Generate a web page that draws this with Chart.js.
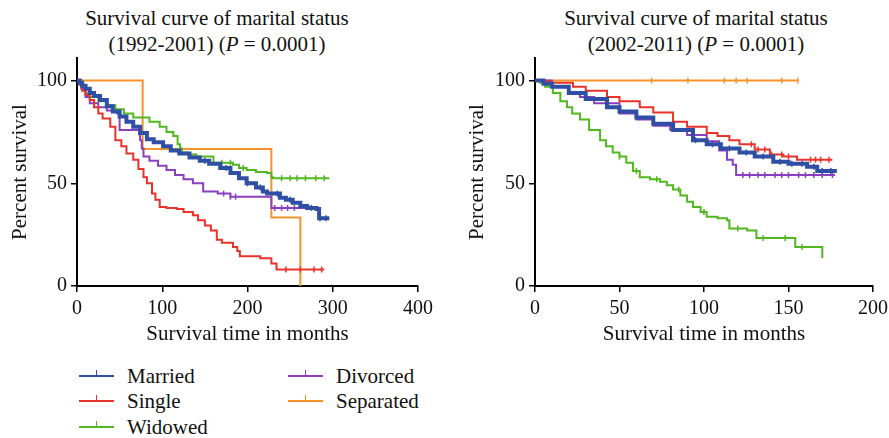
<!DOCTYPE html>
<html>
<head>
<meta charset="utf-8">
<script src="https://cdn.jsdelivr.net/npm/chart.js@4.4.1/dist/chart.umd.min.js"></script>
<style>
  body { margin: 0; background: #fff; }
  #wrap { position: relative; width: 889px; height: 438px; overflow: hidden; background: #fff; font-family: "Liberation Serif", "DejaVu Serif", serif; color: #111; }
  .ttl { position: absolute; top: 5px; font-size: 21px; line-height: 26px; text-align: center; }
  .box { position: absolute; top: 42px; height: 308px; }
  .leg { position: absolute; font-size: 21px; line-height: 24px; }
  .leg .ln { position: absolute; left: 0; top: 11px; width: 35px; height: 0; border-top: 2.5px solid; }
  .leg .tk { position: absolute; left: 17px; top: -7px; width: 0; height: 7px; border-left: 1.5px solid; }
  .leg .tx { position: absolute; left: 48px; top: 0; white-space: nowrap; }
</style>
</head>
<body>
<div id="wrap">
  <div class="ttl" style="left:0;width:434px">Survival curve of marital status<br>(1992-2001) (<i>P</i> = 0.0001)</div>
  <div class="ttl" style="left:496px;width:400px">Survival curve of marital status<br>(2002-2011) (<i>P</i> = 0.0001)</div>
  <div class="box" style="left:0;width:440px"><canvas id="kmEarly"></canvas></div>
  <div class="box" style="left:445px;width:448px"><canvas id="kmLate"></canvas></div>
  <div id="legend"></div>
</div>
<script>
// marital groups
const groupNames = ['Married', 'Single', 'Widowed', 'Divorced', 'Separated'];
const groupColors = ['#2f4fa5', '#e8322a', '#52b820', '#8a3fc0', '#f7922a'];

// 1992-2001 : [months, percent survival]
const earlyMarried = [[0,100],[3,99],[6,97.5],[10,96],[15,94],[20,92.5],[27,90.5],[35,87.5],[42,85],[50,82.5],[58,80],[66,77.5],[74,74.5],[82,71.5],[90,70],[101,68],[110,66],[120,64.5],[132,62.5],[144,61],[155,59.5],[168,57.5],[180,55],[190,52.5],[199,50],[210,48],[218,46],[223,45],[238,43],[245,42],[253,40.5],[262,39],[270,38],[281,37.5],[284,33],[296,33]];
const earlySingle = [[0,100],[3,98],[6,95],[10,93],[15,90.5],[20,87],[25,84],[30,81.5],[39,77.5],[45,71],[52,68],[58,64.5],[66,61.5],[72,57],[78,53],[82,50],[88,45],[92,42],[97,38.5],[105,38],[117,37.5],[125,36],[136,34.5],[142,32],[150,29.5],[157,27],[164,22.5],[170,21],[183,19],[188,17],[191,14.5],[215,13.5],[228,11],[234,8],[290,8]];
const earlyWidowed = [[0,100],[5,97],[10,94],[15,92],[25,90],[35,88],[45,86],[55,84],[66,82],[85,80],[97,77.5],[105,75],[113,73],[118,69],[121,67],[123,65],[130,64],[140,63],[160,60],[183,59],[190,57.5],[199,56.5],[210,55.5],[223,55],[228,53],[230,52.5],[296,52.5]];
const earlyDivorced = [[0,100],[5,96],[10,92],[15,89],[25,87],[35,85.5],[47,84],[50,76],[74,71],[76,67],[78,63],[85,61],[95,58.5],[105,56.5],[115,54],[125,52],[136,50],[148,46],[165,45],[180,43.5],[228,38],[270,38]];
const earlySeparated = [[0,100],[77,66.7],[228,33.3],[262,0]];

// 2002-2011
const lateMarried = [[0,100],[5,98.5],[10,97],[20,94],[30,91],[42.6,87],[50,85],[60,82],[70,79],[81.7,76],[93.5,71],[101.6,69],[110,67],[121,65],[130,63],[141,60.5],[150,59.5],[161,58],[167,56],[178.6,56]];
const lateSingle = [[0,100],[5,99.5],[10,99],[22.5,97],[30,95],[42.6,92],[50,90],[62,87],[70,84.5],[81.7,80],[90,77.5],[101.6,74.5],[108,73],[115,71],[121,69],[130,66.5],[139,64],[147,63],[155,61.5],[176,61.5]];
const lateWidowed = [[0,100],[3,99],[6,97],[10.6,94],[15,90],[18.9,87],[22,84],[26.6,81],[32,76],[38.5,71],[42,68],[46,65],[50,63],[54,60],[58,56],[62,53],[68,52],[74,50.7],[78,49],[81.7,47],[86,44],[90,41],[93.5,38.5],[98,36],[101.6,33.7],[108,33],[113.6,32],[115,28],[125.6,27],[131,23.4],[154,19],[170,13.6]];
const lateDivorced = [[0,100],[10,97],[20,94],[26.6,92],[35,89],[50,84],[60,81],[70,78],[80,76],[90,73.5],[101.6,70.5],[109,66],[113.6,61.5],[117,59],[119,54],[177.5,54]];
const lateSeparated = [[0,100],[155.6,100]];

// censored observations (months)
const earlyCensor = [
  [150,175,200,215,235,250,262,275,285,292],
  [245,262,278,287],
  [170,180,195,240,250,258,268,280,290],
  [172,180,186,232,240,247,255],
  []
];
const lateCensor = [
  [95,105,115,125,135,145,152,158,165,170,175],
  [128,132,136,140,146,150,163,166,169,174],
  [50,60,72,85,100,120,135,148,158],
  [123,127,132,136,142,146,150,156,160,165,170,176],
  [69,90.5,112,119,125.6,146,155.6]
];

const fontFamily = '"Liberation Serif", "DejaVu Serif", serif';

function survivalAt(curve, t){
    let s = curve[0][1];
    for(let i=0; i<curve.length; i++){
        if(curve[i][0] <= t){ s = curve[i][1]; }
    }
    return s;
}

function buildKm(canvasId, curves, censors, xMax, xStep, yWidth, yTitlePad, padRight){
    let datasets = [];
    for(let i=0; i<curves.length; i++){
        datasets.push({
            label: groupNames[i],
            data: curves[i].map(p => ({x: p[0], y: p[1]})),
            stepped: 'before',
            borderColor: groupColors[i],
            borderWidth: i == 0 ? 4 : 2,
            pointRadius: 0,
            fill: false,
            order: i == 0 ? 1 : (i == 4 ? 6 : 2 + i)
        });
    }
    for(let i=0; i<censors.length; i++){
        if(censors[i].length == 0){ continue; }
        datasets.push({
            label: groupNames[i] + ' censored',
            data: censors[i].map(t => ({x: t, y: survivalAt(curves[i], t)})),
            showLine: false,
            pointStyle: 'line',
            rotation: 90,
            pointRadius: 3,
            pointBorderWidth: 1.5,
            pointBorderColor: groupColors[i],
            borderColor: groupColors[i],
            order: i == 0 ? 1 : 2 + i
        });
    }

    new Chart(document.getElementById(canvasId), {
        type: 'line',
        data: { datasets: datasets },
        options: {
            responsive: true,
            maintainAspectRatio: false,
            animation: false,
            layout: { padding: { top: 0, right: padRight, left: 0, bottom: 0 } },
            plugins: { legend: { display: false }, tooltip: { enabled: false } },
            scales: {
                x: {
                    type: 'linear',
                    min: 0,
                    max: xMax,
                    ticks: { stepSize: xStep, color: '#111', font: { family: fontFamily, size: 20 }, padding: 5, maxRotation: 0 },
                    border: { color: '#000', width: 2 },
                    grid: { drawOnChartArea: false, color: '#000', tickLength: 6, lineWidth: 1.5 },
                    title: { display: true, text: 'Survival time in months', color: '#111', font: { family: fontFamily, size: 21 }, padding: { top: 0, bottom: 3 } },
                    afterFit: function(scale){ scale.height = 64; }
                },
                y: {
                    min: 0,
                    max: 111,
                    ticks: { color: '#111', font: { family: fontFamily, size: 20 }, padding: 4 },
                    afterBuildTicks: function(scale){ scale.ticks = [0, 50, 100].map(v => ({value: v})); },
                    border: { color: '#000', width: 2 },
                    grid: { drawOnChartArea: false, color: '#000', tickLength: 6, lineWidth: 1.5 },
                    title: { display: true, text: 'Percent survival', color: '#111', font: { family: fontFamily, size: 21 }, padding: { top: yTitlePad, bottom: 0 } },
                    afterFit: function(scale){ scale.width = yWidth; }
                }
            }
        }
    });
}

function buildLegend(){
    let html = '';
    let cols = [[0, 1, 2], [3, 4]];
    let colX = [79, 288];
    let rowY = [364, 389, 415];
    for(let c=0; c<cols.length; c++){
        for(let r=0; r<cols[c].length; r++){
            let i = cols[c][r];
            html += '<div class="leg" style="left:' + colX[c] + 'px;top:' + rowY[r] + 'px">' +
                    '<span class="ln" style="border-color:' + groupColors[i] + '"><span class="tk" style="border-color:' + groupColors[i] + '"></span></span>' +
                    '<span class="tx">' + groupNames[i] + '</span></div>';
        }
    }
    document.getElementById('legend').innerHTML = html;
}

buildKm('kmEarly', [earlyMarried, earlySingle, earlyWidowed, earlyDivorced, earlySeparated], earlyCensor, 400, 100, 77, 8, 22);
buildKm('kmLate', [lateMarried, lateSingle, lateWidowed, lateDivorced, lateSeparated], lateCensor, 200, 50, 90, 20, 16);
buildLegend();
</script>
</body>
</html>
